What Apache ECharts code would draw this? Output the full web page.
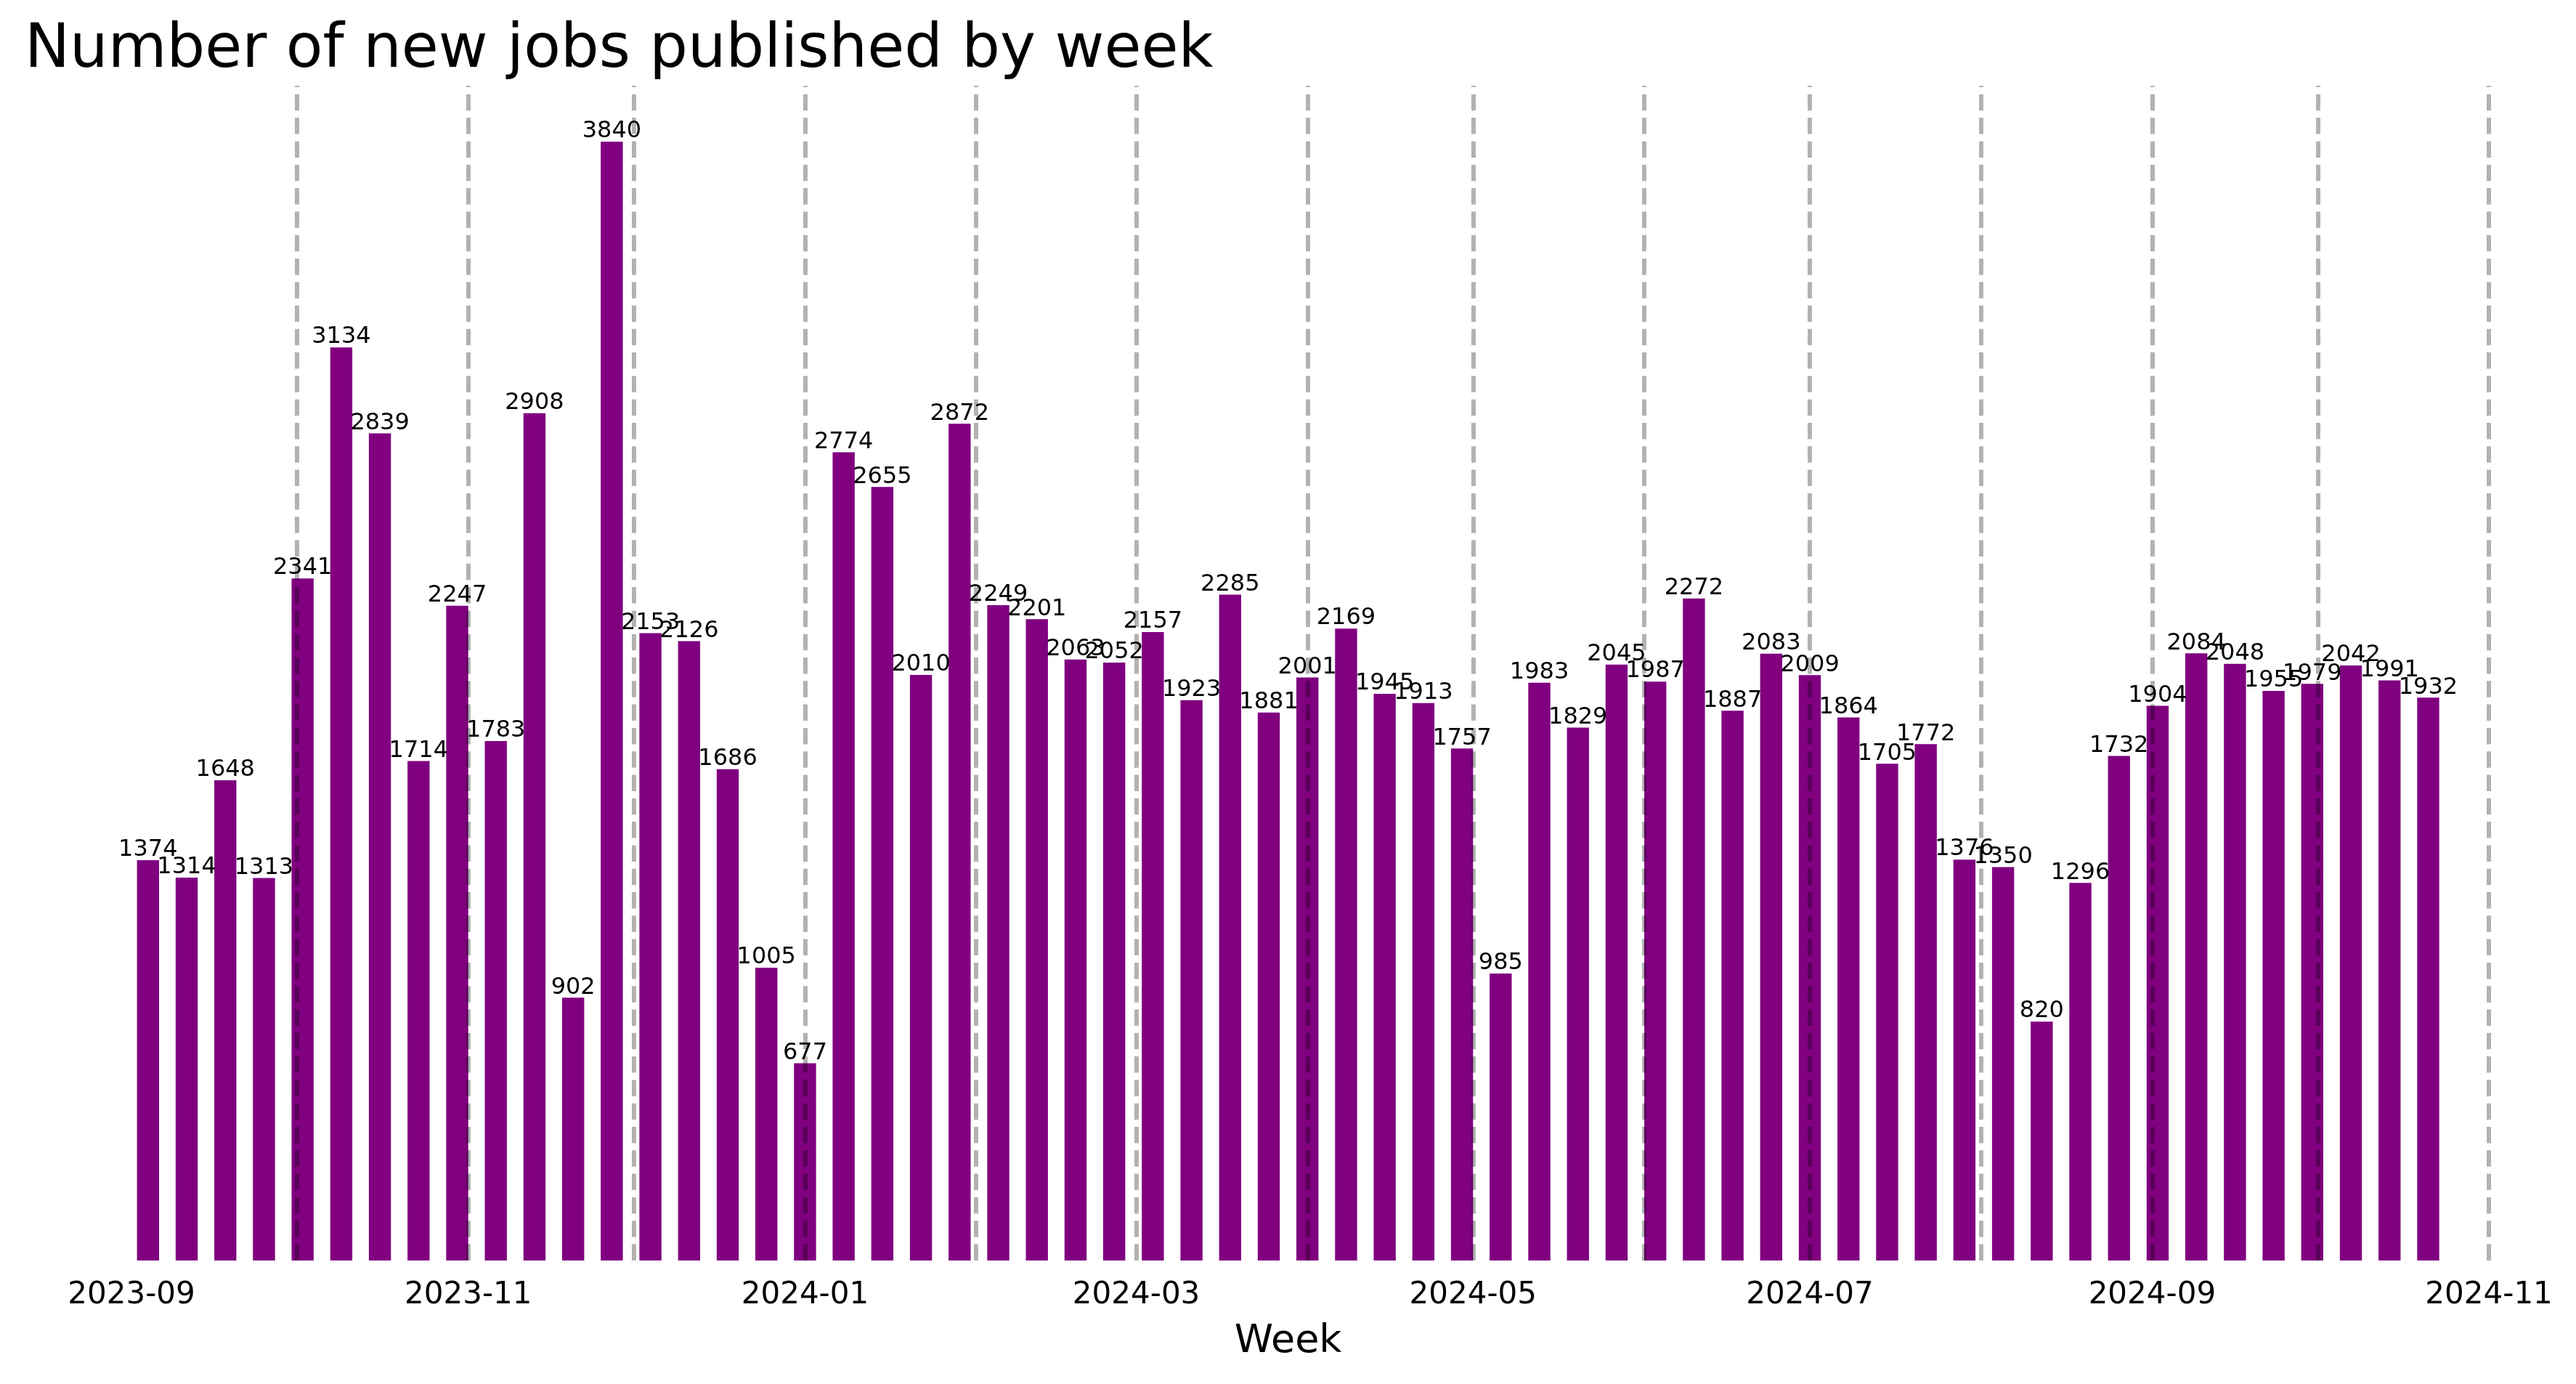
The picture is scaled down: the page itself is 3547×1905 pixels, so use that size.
<!DOCTYPE html>
<html>
<head>
<meta charset="utf-8">
<script src="https://cdn.jsdelivr.net/npm/echarts@6/dist/echarts.min.js"></script>
<style>
html,body{margin:0;padding:0;background:#fff;}
#chart{width:3547px;height:1905px;}
</style>
</head>
<body>
<div id="chart"></div>
<script>
// ---- data ----
var weeks = ['2023-09-04','2023-09-11','2023-09-18','2023-09-25','2023-10-02','2023-10-09','2023-10-16','2023-10-23','2023-10-30','2023-11-06',
'2023-11-13','2023-11-20','2023-11-27','2023-12-04','2023-12-11','2023-12-18','2023-12-25','2024-01-01','2024-01-08','2024-01-15',
'2024-01-22','2024-01-29','2024-02-05','2024-02-12','2024-02-19','2024-02-26','2024-03-04','2024-03-11','2024-03-18','2024-03-25',
'2024-04-01','2024-04-08','2024-04-15','2024-04-22','2024-04-29','2024-05-06','2024-05-13','2024-05-20','2024-05-27','2024-06-03',
'2024-06-10','2024-06-17','2024-06-24','2024-07-01','2024-07-08','2024-07-15','2024-07-22','2024-07-29','2024-08-05','2024-08-12',
'2024-08-19','2024-08-26','2024-09-02','2024-09-09','2024-09-16','2024-09-23','2024-09-30','2024-10-07','2024-10-14','2024-10-21'];
var jobs = [1374,1314,1648,1313,2341,3134,2839,1714,2247,1783,
2908,902,3840,2153,2126,1686,1005,677,2774,2655,
2010,2872,2249,2201,2063,2052,2157,1923,2285,1881,
2001,2169,1945,1913,1757,985,1983,1829,2045,1987,
2272,1887,2083,2009,1864,1705,1772,1376,1350,820,
1296,1732,1904,2084,2048,1955,1979,2042,1991,1932];
var tickLabels = ['2023-09','2023-11','2024-01','2024-03','2024-05','2024-07','2024-09','2024-11'];
var monthLines = ['2023-10-01','2023-11-01','2023-12-01','2024-01-01','2024-02-01','2024-03-01','2024-04-01',
'2024-05-01','2024-06-01','2024-07-01','2024-08-01','2024-09-01','2024-10-01','2024-11-01'];
var xRange = ['2023-08-20','2024-11-05'];
var yMax = 4032;

function ts(s){ var p = s.split('-'); return Date.UTC(+p[0], +p[1]-1, p[2] ? +p[2] : 1); }
function pad(n){ return n < 10 ? '0' + n : '' + n; }
var DAY = 86400000;
var BAR_W = 30.4;

var chart = echarts.init(document.getElementById('chart'), null, {renderer:'canvas'});
var font = 'DejaVu Sans';
chart.setOption({
  animation: false,
  useUTC: true,
  backgroundColor: '#ffffff',
  textStyle: {fontFamily: font},
  title: {
    text: 'Number of new jobs published by week',
    left: 29, top: 24,
    textStyle: {fontFamily: font, fontSize: 83, fontWeight: 'normal', color: '#000', lineHeight: 83}
  },
  // grid widened by half a bar on each side: ECharts pads a bar-carrying time axis by that much
  grid: {left: 89.8 - BAR_W / 2, right: 89.5 - BAR_W / 2, top: 118, bottom: 170, containLabel: false},
  xAxis: {
    type: 'time',
    min: ts(xRange[0]), max: ts(xRange[1]),
    minInterval: 28 * DAY, maxInterval: 31 * DAY,
    name: 'Week', nameLocation: 'middle', nameGap: 85,
    nameTextStyle: {fontFamily: font, fontSize: 54, color: '#000', lineHeight: 54},
    axisLine: {show: false}, axisTick: {show: false}, splitLine: {show: false},
    axisLabel: {
      formatter: function(v){
        var d = new Date(v);
        if (d.getUTCDate() !== 1) return '';
        var s = d.getUTCFullYear() + '-' + pad(d.getUTCMonth()+1);
        return tickLabels.indexOf(s) >= 0 ? s : '';
      },
      fontFamily: font, fontSize: 42, color: '#000', margin: 27, lineHeight: 42,
      hideOverlap: false, showMinLabel: false, showMaxLabel: false
    }
  },
  yAxis: {
    type: 'value', min: 0, max: yMax, show: false,
    splitLine: {show: false}
  },
  series: [{
    type: 'bar',
    data: weeks.map(function(w, i){ return [ts(w), jobs[i]]; }),
    barWidth: BAR_W,
    itemStyle: {color: '#800080'},
    label: {show: true, position: 'top', distance: -2, fontFamily: font, fontSize: 32, color: '#000', lineHeight: 32},
    markLine: {
      silent: true, symbol: ['none','none'],
      label: {show: false},
      lineStyle: {color: 'rgba(0,0,0,0.3)', width: 6, type: [22.5, 9.8]},
      emphasis: {disabled: true},
      data: monthLines.map(function(m){ return {xAxis: ts(m)}; })
    }
  }]
});
</script>
</body>
</html>
